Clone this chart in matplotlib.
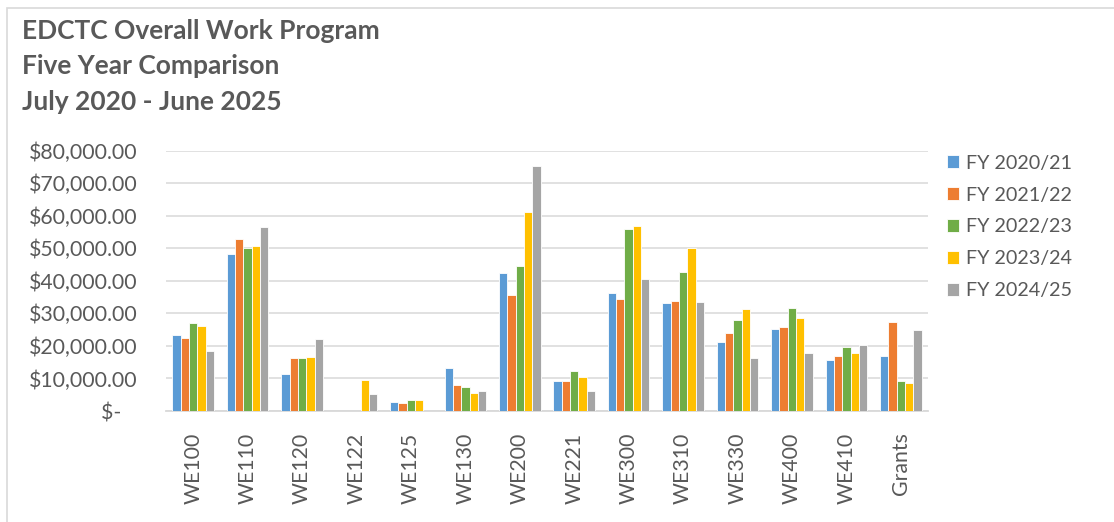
import matplotlib
matplotlib.use("Agg")
import matplotlib.pyplot as plt
from matplotlib.patches import Rectangle
import numpy as np

# values
categories = ["WE100", "WE110", "WE120", "WE122", "WE125", "WE130", "WE200",
              "WE221", "WE300", "WE310", "WE330", "WE400", "WE410", "Grants"]
fy_2020_21 = [23500, 48400, 11500, 0, 2700, 13200, 42400, 9300, 36200, 33200, 21200, 25200, 15800, 16900]
fy_2021_22 = [22500, 52900, 16200, 0, 2400, 8100, 35600, 9300, 34400, 33700, 23900, 25800, 16900, 27200]
fy_2022_23 = [26900, 50000, 16200, 0, 3300, 7500, 44500, 12300, 55800, 42600, 27900, 31600, 19700, 9100]
fy_2023_24 = [26100, 50700, 16600, 9500, 3300, 5500, 61100, 10400, 57000, 50200, 31300, 28500, 17700, 8700]
fy_2024_25 = [18500, 56700, 22100, 5300, 0, 6100, 75300, 6200, 40500, 33400, 16400, 17900, 20300, 24800]
series_labels = ["FY 2020/21", "FY 2021/22", "FY 2022/23", "FY 2023/24", "FY 2024/25"]
y_ticks = [0, 10000, 20000, 30000, 40000, 50000, 60000, 70000, 80000]

colors = ["#5B9BD5", "#ED7D31", "#70AD47", "#FFC000", "#A5A5A5"]
text_color = "#595959"
grid_color = "#D9D9D9"
font = "Lato"
label_size = 15.3

W, H = 1114, 522
fig = plt.figure(figsize=(W / 100, H / 100), dpi=100)
fig.patch.set_facecolor("white")

# chart frame (left and top edges visible)
fig.add_artist(Rectangle((7 / W, -0.1), 1.2, 1 - 8 / H + 0.1, transform=fig.transFigure,
                         fill=False, edgecolor=grid_color, linewidth=1.2))

ax = fig.add_axes([166 / W, 1 - 411 / H, (928 - 166) / W, (411 - 150.7) / H])

series = [fy_2020_21, fy_2021_22, fy_2022_23, fy_2023_24, fy_2024_25]
x = np.arange(len(categories))
bar_w = 0.153
for i, (vals, lab, col) in enumerate(zip(series, series_labels, colors)):
    ax.bar(x + (i - 2) * bar_w, vals, width=bar_w, color=col, label=lab,
           edgecolor="white", linewidth=0.6, zorder=3)

ax.set_xlim(-0.5, len(categories) - 0.5)
ax.set_ylim(0, 80000)
ax.set_yticks(y_ticks)
ax.set_yticklabels(["$-   " if v == 0 else f"${v:,.2f}" for v in y_ticks])
ax.set_xticks(x)
ax.set_xticklabels(categories, rotation=90)
ax.yaxis.grid(True, color=grid_color, linewidth=1.1, zorder=0)
ax.tick_params(axis="y", length=0, pad=20.5, labelsize=label_size, labelcolor=text_color)
ax.tick_params(axis="x", length=0, pad=15.5, labelsize=label_size, labelcolor=text_color)
for lbl in ax.get_xticklabels() + ax.get_yticklabels():
    lbl.set_fontfamily(font)
for side in ["top", "right", "left"]:
    ax.spines[side].set_visible(False)
ax.spines["bottom"].set_color(grid_color)
ax.spines["bottom"].set_linewidth(1.3)

leg = ax.legend(loc="upper left", bbox_to_anchor=(937 / W, 1 - 145 / H),
                bbox_transform=fig.transFigure, frameon=False, borderpad=0,
                handlelength=0.64, handleheight=0.64, handletextpad=0.33,
                labelspacing=0.75, prop={"family": font, "size": 14.2})
for t in leg.get_texts():
    t.set_color(text_color)

titles = ["EDCTC Overall Work Program", "Five Year Comparison", "July 2020 - June 2025"]
for k, line in enumerate(titles):
    fig.text(22 / W, 1 - (31 + k * 35.5) / H, line, family=font, weight="bold",
             fontsize=19, color=text_color, va="center", ha="left")

fig.savefig("out.png", dpi=100)
